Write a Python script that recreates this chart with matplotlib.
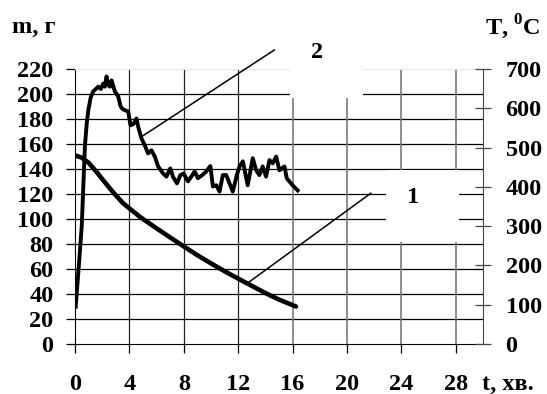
import matplotlib
matplotlib.use("Agg")
import matplotlib.pyplot as plt
from matplotlib.patches import Rectangle

# curve 1: mass, g (left axis)
t_mass = [0, 0.5, 1.0, 1.6, 2.0, 2.6, 3.0, 3.5, 4.0, 4.8, 6.0, 7.1, 7.94, 9.0, 10.39, 11.2, 12.1,
          13.0, 14.05, 15.0, 16.25]
mass = [151, 149, 145, 137.5, 132, 124, 119, 113, 108.5, 101.5, 92.5, 84.5, 78.5, 71, 62, 57, 51.7,
        46.5, 40.5, 35.5, 30]

# curve 2: temperature, C (right axis)
t_temp = [0.05, 0.3, 0.5, 0.61, 0.73, 0.85, 0.98, 1.15, 1.34, 1.71, 1.9, 2.08, 2.2, 2.32, 2.45,
          2.57, 2.69, 2.93, 3.18, 3.35, 3.5, 3.67, 3.91, 4.08, 4.3, 4.52, 4.64, 4.89, 5.13, 5.37,
          5.62, 5.87, 6.11, 6.48, 6.72, 7.01, 7.2, 7.5, 7.75, 7.99, 8.31, 8.55, 8.8, 9.04, 9.36,
          9.65, 9.95, 10.14, 10.39, 10.63, 10.87, 11.12, 11.36, 11.6, 11.9, 12.1, 12.34, 12.7,
          13.07, 13.32, 13.56, 13.8, 14.05, 14.3, 14.54, 14.79, 15.03, 15.4, 15.57, 15.76, 16.0, 16.37]
temp = [95, 207, 302, 401, 503, 557, 595, 627, 643, 655, 649, 663, 655, 681, 659,
        655, 671, 643, 630, 605, 598, 595, 592, 557, 560, 574, 554, 523, 506, 485,
        493, 477, 452, 434, 426, 447, 426, 409, 430, 434, 414, 426, 439, 422, 430,
        439, 453, 401, 404, 388, 430, 430, 409, 388, 430, 452, 465, 404,
        473, 442, 430, 452, 426, 468, 460, 477, 442, 452, 422, 414, 404, 391]

x_ticks = [0, 4, 8, 12, 16, 20, 24, 28]
m_ticks = [0, 20, 40, 60, 80, 100, 120, 140, 160, 180, 200, 220]
T_ticks = [0, 100, 200, 300, 400, 500, 600, 700]
h_grid = [20, 40, 60, 80, 100, 120, 140, 160, 180, 200]
v_grid_dark = [4, 8, 12]
v_grid_gray = [16, 20, 24, 28]

# leader lines and curve labels (left-axis units)
lead1_x = [21.75, 12.83]
lead1_y = [120.6, 49.8]
lead2_x = [14.66, 4.89]
lead2_y = [235.2, 165.8]

plt.rcParams['font.family'] = ['Liberation Serif', 'DejaVu Serif']
plt.rcParams['font.weight'] = 'bold'
plt.rcParams['font.size'] = 17.5
plt.rcParams['mathtext.fontset'] = 'custom'
plt.rcParams['mathtext.rm'] = 'Liberation Serif:bold'
plt.rcParams['mathtext.bf'] = 'Liberation Serif:bold'

fig = plt.figure(figsize=(5.47, 3.94), dpi=100)
ax = fig.add_axes([0.1371, 0.1269, 0.7459, 0.698])
ax2 = ax.twinx()

ax.set_xlim(0, 30)
ax.set_ylim(0, 220)
ax2.set_ylim(0, 700)

for v in h_grid:
    ax.axhline(v, color='black', lw=0.9, zorder=1.5)
for v in v_grid_dark:
    ax.axvline(v, color='#222222', lw=0.9, zorder=1.5)
for v in v_grid_gray:
    ax.axvline(v, color='#7a7a7a', lw=1.2, zorder=1.5)

# white boxes behind the curve numbers
ax.add_patch(Rectangle((15.84, 196.8), 21.19 - 15.84, 40, facecolor='white',
                       edgecolor='none', zorder=2.7, clip_on=False))
ax.add_patch(Rectangle((22.87, 81.6), 28.2 - 22.87, 139.2 - 81.6, facecolor='white',
                       edgecolor='none', zorder=2.7, clip_on=False))

ax.plot(t_mass, mass, color='black', lw=3.3, solid_capstyle='round', zorder=3)
ax2.plot(t_temp, temp, color='black', lw=2.8, solid_joinstyle='round', zorder=3)

ax.plot(lead1_x, lead1_y, color='black', lw=1.1, zorder=3, clip_on=False)
ax.plot(lead2_x, lead2_y, color='black', lw=1.1, zorder=3, clip_on=False)
ax.text(24.85, 116.8, '1', ha='center', va='center', zorder=4)
ax.text(17.8, 232.8, '2', ha='center', va='center', zorder=4, clip_on=False)

ax.set_xticks(x_ticks)
ax.set_yticks(m_ticks)
ax2.set_yticks(T_ticks)

ax.spines['left'].set_color('black')
ax.spines['bottom'].set_color('black')
ax.spines['right'].set_visible(False)
ax.spines['top'].set_color('#e6e6e6')
for s in ['left', 'top', 'bottom']:
    ax2.spines[s].set_visible(False)
ax2.spines['right'].set_color('#444444')

ax.tick_params(axis='x', direction='out', length=6.5, width=0.9, pad=15)
ax.tick_params(axis='y', direction='out', length=6.5, width=0.9, pad=9)
ax2.tick_params(axis='y', direction='inout', length=11.5, width=0.9, pad=10.5, color='#444444')

fig.text(12 / 547, 0.9315, 'm, г', ha='left', va='center')
fig.text(485 / 547, 0.9315, 'T, $^0$C', ha='left', va='center')
fig.text(482 / 547, 0.025, 't, хв.', ha='left', va='center')

fig.savefig('out.png', dpi=100)
